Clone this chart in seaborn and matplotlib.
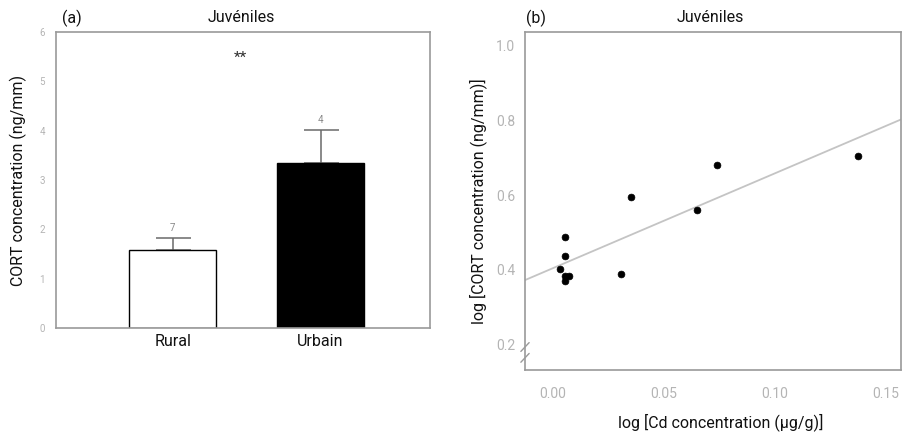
import numpy as np
import pandas as pd
import matplotlib
matplotlib.use("Agg")
import matplotlib.pyplot as plt
import seaborn as sns

# ---------------- data ----------------
groups = ["Rural", "Urbain"]
cort_mean = [1.58, 3.35]
cort_err = [0.25, 0.67]
sample_n = ["7", "4"]
bar_colors = ["white", "black"]
y_ticks_a = [0, 1, 2, 3, 4, 5, 6]

cd_log = [0.0032, 0.0054, 0.0072, 0.0054, 0.0054, 0.0054, 0.0305, 0.0351, 0.0650, 0.0739, 0.1374]
cort_log = [0.403, 0.384, 0.384, 0.371, 0.488, 0.437, 0.390, 0.595, 0.561, 0.681, 0.705]
x_ticks_b = [0.00, 0.05, 0.10, 0.15]
x_ticklabels_b = ["0.00", "0.05", "0.10", "0.15"]
y_ticks_b = [0.2, 0.4, 0.6, 0.8, 1.0]
y_ticklabels_b = ["0.2", "0.4", "0.6", "0.8", "1.0"]

# ---------------- style ----------------
sns.set_theme(style="white")
plt.rcParams["font.family"] = ["Roboto", "DejaVu Sans"]

spine_col = "#9a9a9a"
tick_lab_col = "#b4b4b4"
fs = 11.5

fig = plt.figure(figsize=(9.08, 4.32), dpi=100)
ax1 = fig.add_axes([56 / 908, 1 - 328 / 432, 374 / 908, 296 / 432])
ax2 = fig.add_axes([525 / 908, 1 - 370 / 432, 376 / 908, 338 / 432])

# ---------------- panel (a) ----------------
df_a = pd.DataFrame({"group": groups, "cort": cort_mean})
sns.barplot(data=df_a, x="group", y="cort", hue="group", palette=bar_colors,
            edgecolor="black", linewidth=1.0, width=0.59, errorbar=None,
            legend=False, ax=ax1, zorder=2)
ax1.errorbar(range(len(groups)), cort_mean, yerr=[[0] * len(groups), cort_err],
             fmt="none", ecolor="#6a6a6a", elinewidth=1.1, capsize=12.6,
             capthick=1.1, zorder=1)
for i, n in enumerate(sample_n):
    ax1.annotate(n, (i, cort_mean[i] + cort_err[i]), xytext=(0, 7),
                 textcoords="offset points", ha="center", va="center",
                 fontsize=7, color="#8a8a8a")
ax1.text(0.46, 5.48, "**", ha="center", va="center", fontsize=11, color="#333333")

ax1.set_xlim(-0.79, 1.74)
ax1.set_ylim(0, 6)
ax1.set_yticks(y_ticks_a)
ax1.set_yticklabels([str(t) for t in y_ticks_a])
ax1.tick_params(axis="y", direction="in", length=3, width=0.8, color=spine_col,
                labelsize=7, labelcolor=tick_lab_col, pad=8)
ax1.tick_params(axis="x", length=0, labelsize=fs, labelcolor="#111111", pad=4)
ax1.set_xlabel("")
ax1.set_ylabel("CORT concentration (ng/mm)", fontsize=fs, color="#111111")
ax1.yaxis.set_label_coords(-0.0775, 0.5)
for s in ax1.spines.values():
    s.set_color(spine_col)
    s.set_linewidth(1.2)

fig.text(72 / 908, 1 - 18 / 432, "(a)", ha="center", va="center", fontsize=fs, color="#111111")
fig.text(241 / 908, 1 - 18 / 432, "Juvéniles", ha="center", va="center", fontsize=fs, color="#111111")

# ---------------- panel (b) ----------------
ax2.set_xlim(-0.0126, 0.1568)
ax2.set_ylim(0.133, 1.035)
sns.regplot(x=cd_log, y=cort_log, scatter=False, ci=None, truncate=False,
            line_kws=dict(color="#c4c4c4", lw=1.3), ax=ax2)
sns.scatterplot(x=cd_log, y=cort_log, color="black", s=24, edgecolor="black",
                linewidth=0.5, ax=ax2, zorder=3)
ax2.set_xlim(-0.0126, 0.1568)
ax2.set_ylim(0.133, 1.035)
ax2.set_xticks(x_ticks_b)
ax2.set_xticklabels(x_ticklabels_b)
ax2.set_yticks(y_ticks_b)
ax2.set_yticklabels(y_ticklabels_b)
ax2.tick_params(axis="both", direction="in", length=4, width=0.8, color=spine_col,
                labelsize=10, labelcolor=tick_lab_col)
ax2.tick_params(axis="x", pad=12)
ax2.tick_params(axis="y", pad=7)
ax2.set_xlabel("log [Cd concentration (µg/g)]", fontsize=fs, color="#111111")
ax2.set_ylabel("log [CORT concentration (ng/mm)]", fontsize=fs, color="#111111")
ax2.xaxis.set_label_coords(0.52, -0.127)
ax2.yaxis.set_label_coords(-0.101, 0.5)
for s in ax2.spines.values():
    s.set_color(spine_col)
    s.set_linewidth(1.2)

# axis break marks on the left spine
dx, dy = 0.011, 0.013
for yb in (0.068, 0.036):
    ax2.plot([-dx, dx], [yb - dy, yb + dy], transform=ax2.transAxes,
             color=spine_col, lw=1.0, clip_on=False)

fig.text(536 / 908, 1 - 18 / 432, "(b)", ha="center", va="center", fontsize=fs, color="#111111")
fig.text(710 / 908, 1 - 18 / 432, "Juvéniles", ha="center", va="center", fontsize=fs, color="#111111")

fig.savefig("out.png", dpi=100, facecolor="white")
